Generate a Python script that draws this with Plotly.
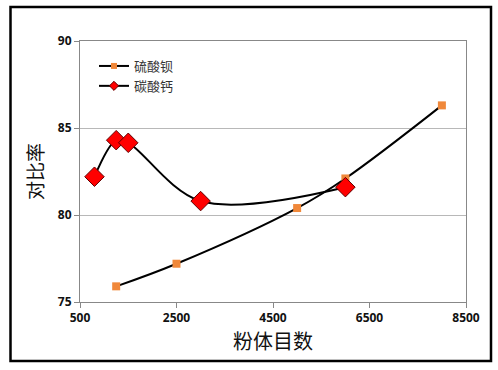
import plotly.graph_objects as go

# Data
mesh_baso4 = [1250, 2500, 5000, 6000, 8000]
ratio_baso4 = [75.9, 77.2, 80.4, 82.1, 86.3]
mesh_caco3 = [800, 1250, 1500, 3000, 6000]
ratio_caco3 = [82.2, 84.3, 84.15, 80.8, 81.6]
x_ticks = [500, 2500, 4500, 6500, 8500]
y_ticks = [75, 80, 85, 90]

W, H = 498, 370
L, R, T, B = 80, 32, 41, 68
pw, ph = W - L - R, H - T - B

def px_x(p):
    return (p - L) / pw

def px_y(p):
    return (H - B - p) / ph

cjk = "Noto Sans CJK SC"
orange = "#F0883A"
red = "#FF0000"

fig = go.Figure()
fig.add_trace(go.Scatter(
    x=mesh_baso4, y=ratio_baso4, name="硫酸钡", mode="lines+markers", showlegend=False,
    line=dict(color="black", width=2, shape="spline", smoothing=1),
    marker=dict(symbol="square", size=8, color=orange, line=dict(width=0)),
))
fig.add_trace(go.Scatter(
    x=mesh_caco3, y=ratio_caco3, name="碳酸钙", mode="lines+markers", showlegend=False,
    line=dict(color="black", width=2, shape="spline", smoothing=1),
    marker=dict(symbol="diamond", size=15, color=red, line=dict(width=1, color="#600000")),
))
# legend entries with smaller symbols
fig.add_trace(go.Scatter(
    x=[None], y=[None], name="硫酸钡", mode="lines+markers",
    line=dict(color="black", width=2),
    marker=dict(symbol="square", size=6, color=orange, line=dict(width=0)),
))
fig.add_trace(go.Scatter(
    x=[None], y=[None], name="碳酸钙", mode="lines+markers",
    line=dict(color="black", width=2),
    marker=dict(symbol="diamond", size=7, color=red, line=dict(width=1, color="#600000")),
))

tickfont = dict(family="Open Sans", size=12, color="#111111", weight="bold")

fig.update_layout(
    width=W, height=H,
    margin=dict(l=L, r=R, t=T, b=B),
    paper_bgcolor="white", plot_bgcolor="white",
    showlegend=True,
    legend=dict(x=px_x(94), y=px_y(51), xanchor="left", yanchor="top",
                bgcolor="rgba(0,0,0,0)", font=dict(family=cjk, size=13, color="#333333"),
                itemwidth=30, tracegroupgap=0),
    xaxis=dict(range=[500, 8500], tickvals=x_ticks, ticktext=[str(v) for v in x_ticks],
               showgrid=False, zeroline=False, showline=True, linecolor="#888888", linewidth=1,
               mirror=True, ticks="outside", ticklen=5, tickcolor="#888888",
               tickfont=tickfont,
               title=dict(text="粉体目数", font=dict(family=cjk, size=20, color="#111111"), standoff=8)),
    yaxis=dict(range=[75, 90], tickvals=y_ticks,
               showgrid=True, gridcolor="#b8b8b8", gridwidth=1, zeroline=False,
               showline=True, linecolor="#888888", linewidth=1, mirror=True,
               ticks="outside", ticklen=5, tickcolor="#888888",
               tickfont=tickfont,
               title=dict(text="对比率", font=dict(family=cjk, size=19, color="#111111"), standoff=9)),
    shapes=[dict(type="rect", xref="paper", yref="paper",
                 x0=px_x(10.5), x1=px_x(491), y0=px_y(361), y1=px_y(7),
                 line=dict(color="black", width=2.5), layer="below")],
)

fig.write_html("out.html", config={"displayModeBar": False},
               post_script="document.body.style.margin='0px';")
